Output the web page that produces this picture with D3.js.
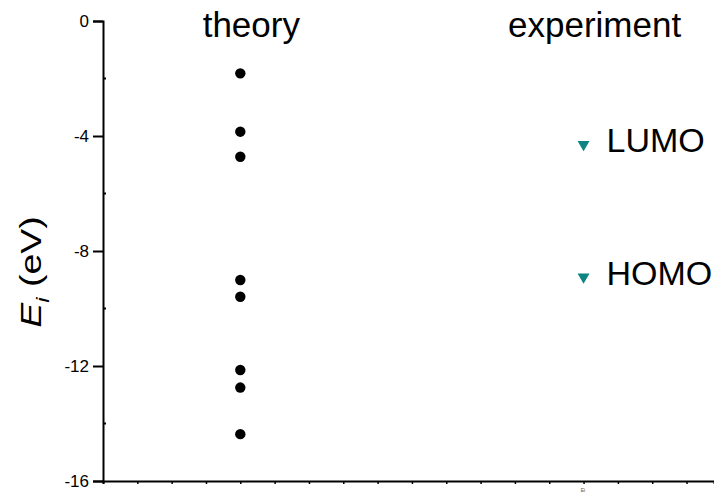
<!DOCTYPE html>
<html>
<head>
<meta charset="utf-8">
<script src="https://cdn.jsdelivr.net/npm/d3@7"></script>
<style>
  html, body { margin: 0; padding: 0; background: #fff; }
  svg { display: block; font-family: "Liberation Sans", Arial, sans-serif; }
</style>
</head>
<body>
<svg id="chart" width="714" height="495"></svg>
<script>
// ---- data ----
const categories = ["theory", "experiment"];
const categoryPos = [4, 14];
const theoryLevels = [-1.82, -3.85, -4.72, -9.01, -9.59, -12.14, -12.75, -14.37];
const experimentLevels = [-4.29, -8.90];
const experimentLabels = ["LUMO", "HOMO"];
const yMajorTicks = [0, -4, -8, -12, -16];
const yMinorTicks = [-2, -6, -10, -14];
const xTicks = d3.range(0, 18);

// ---- layout ----
const svg = d3.select("#chart");
const x = d3.scaleLinear().domain([0, 17.8]).range([103, 714]);
const y = d3.scaleLinear().domain([-16, 0]).range([481, 21]);

// y axis major
const yAxis = d3.axisLeft(y).tickValues(yMajorTicks).tickSize(10).tickPadding(4)
  .tickFormat(d => String(d));
const gy = svg.append("g").attr("transform", `translate(${x(0)},0)`).call(yAxis);
gy.select(".domain").attr("stroke", "#000").attr("stroke-width", 2);
gy.selectAll(".tick line").attr("stroke", "#000").attr("stroke-width", 2);
gy.selectAll(".tick text").attr("font-size", 17).attr("fill", "#000")
  .attr("font-family", "Liberation Sans, Arial, sans-serif");

// y minor ticks (inside)
svg.append("g").selectAll("line").data(yMinorTicks).join("line")
  .attr("x1", x(0)).attr("x2", x(0) + 3)
  .attr("y1", d => y(d)).attr("y2", d => y(d))
  .attr("stroke", "#000").attr("stroke-width", 2);

// x axis (no labels)
const xAxis = d3.axisBottom(x).tickValues(xTicks).tickSize(3).tickFormat("");
const gx = svg.append("g").attr("transform", `translate(0,${y(-16)})`).call(xAxis);
gx.select(".domain").attr("stroke", "#000").attr("stroke-width", 2);
gx.selectAll(".tick line").attr("stroke", "#000").attr("stroke-width", 1.5);

// tiny axis title
svg.append("text").attr("x", 583).attr("y", 492).attr("font-size", 5)
  .attr("text-anchor", "middle").attr("fill", "#555").text("Ei");

// y axis title
const yt = svg.append("text")
  .attr("transform", `translate(41,${272}) rotate(-90) scale(1.25,1)`)
  .attr("text-anchor", "middle").attr("font-size", 30).attr("fill", "#000");
yt.append("tspan").attr("font-style", "italic").text("E");
yt.append("tspan").attr("font-style", "italic").attr("font-size", 19).attr("dy", 8).text("i");
yt.append("tspan").attr("dy", -8).text(" (eV)");

// category headers
svg.append("g").selectAll("text").data(categories).join("text")
  .attr("x", (d, i) => x(categoryPos[i]) + 11).attr("y", 37)
  .attr("text-anchor", "middle").attr("font-size", 35).attr("fill", "#000")
  .text(d => d);

// theory points
svg.append("g").selectAll("circle").data(theoryLevels).join("circle")
  .attr("cx", x(categoryPos[0])).attr("cy", d => y(d)).attr("r", 5.2)
  .attr("fill", "#000");

// experiment triangles
const tri = d3.symbol().type(d3.symbolTriangle).size(62);
svg.append("g").selectAll("path").data(experimentLevels).join("path")
  .attr("d", tri)
  .attr("transform", d => `translate(${x(categoryPos[1])},${y(d)}) rotate(180)`)
  .attr("fill", "#0e8482");

svg.append("g").selectAll("text").data(experimentLevels).join("text")
  .attr("x", x(categoryPos[1]) + 23).attr("y", d => y(d) + 8)
  .attr("font-size", 34).attr("fill", "#000")
  .text((d, i) => experimentLabels[i]);
</script>
</body>
</html>
